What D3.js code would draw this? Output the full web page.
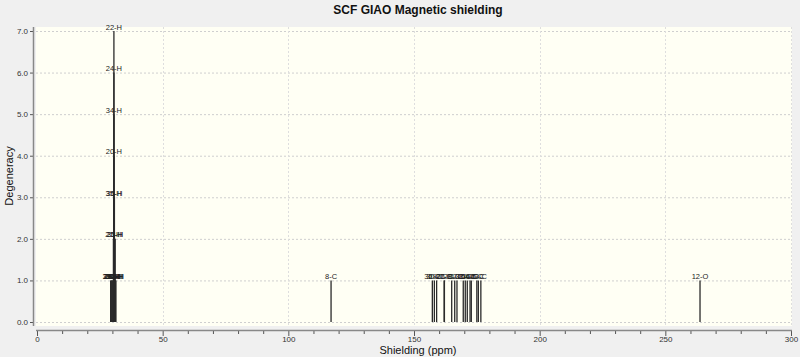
<!DOCTYPE html>
<html><head><meta charset="utf-8">
<script src="https://cdn.jsdelivr.net/npm/d3@7"></script>
<style>
body{margin:0;background:#f0f0f0;}
svg{display:block;}
.narrow{font-family:"Liberation Sans Narrow","Arial Narrow","Liberation Sans",Arial,sans-serif;}
</style></head>
<body>
<svg id="c" width="800" height="357"></svg>
<script>
// Data: shielding (ppm), degeneracy, atom label
const shielding = [30.6,30.6,30.6,30.6,30.5,30.8,30.4,30.9,31.1,29.3,29.5,29.7,29.9,30.1,30.3,30.7,31.0,31.2,31.4,
  117.0,
  157.3,158.1,159.0,162.0,162.1,165.0,166.2,167.1,169.6,170.4,171.2,172.3,172.8,175.0,175.6,176.6,
  263.8];
const degeneracy = [7,6,5,4,3,3,2,2,2,1,1,1,1,1,1,1,1,1,1,
  1,
  1,1,1,1,1,1,1,1,1,1,1,1,1,1,1,1,
  1];
const atomLabels = ["22-H","24-H","34-H","20-H","35-H","36-H","21-H","25-H","33-H","37-H","26-H","27-H","28-H","29-H","23-H","30-H","31-H","32-H","38-H",
  "8-C",
  "36-C","30-C","29-C","27-C","26-C","28-C","31-C","32-C","33-C","15-C","14-C","16-C","4-C","6-C","5-C","3-C",
  "12-O"];
const xTicks = [0,50,100,150,200,250,300];
const yTicks = [0,1,2,3,4,5,6,7];

const svg = d3.select("#c");
const x = d3.scaleLinear().domain([0,300]).range([37,791]);
const y = d3.scaleLinear().domain([0,7]).range([322,31]);

// plot area
svg.append("rect").attr("x",36).attr("y",27).attr("width",756).attr("height",299)
  .attr("fill","#fffff4");

// grid
svg.append("g").selectAll("line").data(yTicks).join("line")
  .attr("x1",36).attr("x2",792).attr("y1",d=>y(d)+0.5).attr("y2",d=>y(d)+0.5)
  .attr("stroke","#cfcfcf").attr("stroke-dasharray","2,2");
svg.append("g").selectAll("line").data(xTicks.slice(1,-1)).join("line")
  .attr("x1",d=>Math.round(x(d))+0.5).attr("x2",d=>Math.round(x(d))+0.5).attr("y1",27).attr("y2",326)
  .attr("stroke","#dedede").attr("stroke-dasharray","2,2");
svg.append("line").attr("x1",791.5).attr("x2",791.5).attr("y1",27).attr("y2",326)
  .attr("stroke","#dedede").attr("stroke-dasharray","2,2");

// sticks
const peaks = shielding.map((s,i)=>({s, d:degeneracy[i], l:atomLabels[i]}));
svg.append("g").selectAll("line").data(peaks).join("line")
  .attr("x1",d=>x(d.s)).attr("x2",d=>x(d.s))
  .attr("y1",y(0)).attr("y2",d=>y(d.d))
  .attr("stroke","#2a2a2a").attr("stroke-width",1.3);
svg.append("g").attr("class","narrow").selectAll("text").data(peaks).join("text")
  .attr("x",d=>x(d.s)).attr("y",d=>y(d.d)-1.5)
  .attr("text-anchor","middle").attr("font-size",7.5).attr("fill","#222")
  .text(d=>d.l);

// y axis
const ya = svg.append("g").attr("class","narrow").attr("transform","translate(33,0)")
  .call(d3.axisLeft(y).tickValues(yTicks).tickFormat(d3.format(".1f")).tickSize(3).tickPadding(2));
ya.select(".domain").remove();
ya.append("line").attr("x1",0.5).attr("x2",0.5).attr("y1",27).attr("y2",326).attr("stroke","#888").attr("stroke-width",1.5);
ya.selectAll(".tick line").attr("stroke","#555");
ya.selectAll("text").attr("font-size",8).attr("fill","#333").attr("font-family",null);

// x axis
const xa = svg.append("g").attr("class","narrow").attr("transform","translate(0,330)")
  .call(d3.axisBottom(x).tickValues(d3.range(0,301,10)).tickFormat(d=>xTicks.includes(d)?d:"").tickSize(4).tickPadding(2));
xa.select(".domain").remove();
xa.append("line").attr("x1",36).attr("x2",792).attr("y1",0.5).attr("y2",0.5).attr("stroke","#888").attr("stroke-width",1.5);
xa.selectAll(".tick line").attr("stroke","#555").attr("y2",d=>xTicks.includes(d)?6:4);
xa.selectAll("text").attr("font-size",8).attr("fill","#333").attr("font-family",null);

// titles
svg.append("text").attr("x",418).attr("y",14).attr("text-anchor","middle")
  .attr("font-family","Liberation Sans, Arial, sans-serif").attr("font-weight","bold").attr("font-size",12).attr("fill","#111")
  .text("SCF GIAO Magnetic shielding");
svg.append("text").attr("x",418).attr("y",354).attr("text-anchor","middle")
  .attr("font-family","Liberation Sans, Arial, sans-serif").attr("font-size",11).attr("fill","#111")
  .text("Shielding (ppm)");
svg.append("text").attr("transform","translate(13,176) rotate(-90)").attr("text-anchor","middle")
  .attr("font-family","Liberation Sans, Arial, sans-serif").attr("font-size",11).attr("fill","#111")
  .text("Degeneracy");
</script>
</body></html>
